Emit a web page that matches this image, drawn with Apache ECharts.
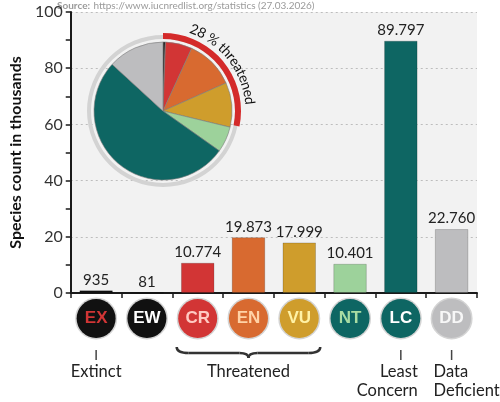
<!DOCTYPE html>
<html>
<head>
<meta charset="utf-8">
<script src="https://cdn.jsdelivr.net/npm/echarts@6/dist/echarts.min.js"></script>
<style>
  html, body { margin: 0; padding: 0; background: #fff; }
  #chart { width: 500px; height: 402px; }
</style>
</head>
<body>
<div id="chart"></div>
<script>
// IUCN red list categories, species counts (27.03.2026)
const codes = ['EX', 'EW', 'CR', 'EN', 'VU', 'NT', 'LC', 'DD'];
const counts = [935, 81, 10774, 19873, 17999, 10401, 89797, 22760];
const barColors = ['#111111', '#111111', '#d23535', '#d86a30', '#cf9d2c', '#9dd29b', '#0e6663', '#bdbdbf'];
const circleColors = ['#111111', '#111111', '#d23535', '#d86a30', '#cf9d2c', '#0e6663', '#0e6663', '#bdbdbf'];
const circleText = ['#d23535', '#ffffff', '#ffc9c2', '#ffd2a6', '#fff2a6', '#a8dca3', '#ffffff', '#f7f7f7'];
const threatened = ['CR', 'EN', 'VU'];
const yTicks = [0, 20, 40, 60, 80, 100];

const chartDom = document.getElementById('chart');
const myChart = echarts.init(chartDom);

const values = counts.map(c => c / 1000);
const fmt = n => String(n).replace(/\B(?=(\d{3})+(?!\d))/g, '.');
const total = counts.reduce((a, b) => a + b, 0);
const threatSum = counts.filter((c, i) => threatened.includes(codes[i])).reduce((a, b) => a + b, 0);
const pct = Math.round(threatSum / total * 100);

const pieCenter = [163, 111];

let rich = {};
codes.forEach(function (c, i) {
  rich['c' + i] = {
    width: 39, height: 39, lineHeight: 39,
    borderRadius: 21,
    backgroundColor: circleColors[i],
    borderColor: '#d4d4d4', borderWidth: 1.5,
    color: circleText[i],
    fontFamily: 'Liberation Sans, Arial, sans-serif',
    fontWeight: 'bold', fontSize: 17,
    align: 'center'
  };
});

let option = {
  animation: false,
  backgroundColor: '#ffffff',
  textStyle: { fontFamily: 'Lato, sans-serif' },
  grid: {
    left: 50, right: 23, top: 12, bottom: 109,
    show: true, backgroundColor: '#f2f2f2', borderWidth: 0
  },
  xAxis: {
    type: 'category',
    data: codes,
    axisLine: { lineStyle: { color: '#1a1a1a', width: 2 } },
    axisTick: { show: true, alignWithLabel: false, length: 5, lineStyle: { color: '#1a1a1a', width: 1.5 } },
    axisLabel: {
      interval: 0,
      margin: 6,
      formatter: function (v, i) { return '{c' + i + '|' + v + '}'; },
      rich: rich
    }
  },
  yAxis: {
    type: 'value',
    min: yTicks[0], max: yTicks[yTicks.length - 1], interval: 20,
    name: 'Species count in thousands',
    nameLocation: 'middle',
    nameGap: 31,
    nameTextStyle: { fontSize: 16, fontWeight: 'bold', color: '#111', fontFamily: 'Lato, sans-serif' },
    axisLine: { show: true, lineStyle: { color: '#1a1a1a', width: 2 } },
    axisTick: { show: true, length: 5, lineStyle: { color: '#1a1a1a', width: 1.5 } },
    minorTick: { show: true, splitNumber: 2, length: 5, lineStyle: { color: '#1a1a1a', width: 1.5 } },
    axisLabel: { fontSize: 16, color: '#333', margin: 8 },
    splitLine: { show: true, lineStyle: { color: '#bdbdbd', type: [2, 3], width: 1 } }
  },
  series: [
    {
      type: 'bar',
      data: values.map((v, i) => ({ value: v, itemStyle: { color: barColors[i] } })),
      barWidth: '66%',
      itemStyle: { borderColor: 'rgba(0,0,0,0.18)', borderWidth: 1 },
      label: {
        show: true, position: 'top', distance: 3,
        fontSize: 15, color: '#222',
        formatter: p => fmt(counts[p.dataIndex])
      },
      z: 2
    },
    {
      // grey ring around the pie
      type: 'pie',
      center: pieCenter,
      radius: [72, 76],
      silent: true,
      label: { show: false },
      data: [{ value: 1, itemStyle: { color: '#d3d3d3' } }],
      z: 5
    },
    {
      // red arc over the threatened share
      type: 'pie',
      center: pieCenter,
      radius: [72, 78],
      startAngle: 90,
      silent: true,
      label: { show: false },
      data: [
        { value: threatSum, itemStyle: { color: '#d42a2a' } },
        { value: total - threatSum, itemStyle: { color: 'rgba(0,0,0,0)' } }
      ],
      z: 6
    },
    {
      type: 'pie',
      center: pieCenter,
      radius: [0, 69],
      startAngle: 90,
      silent: true,
      label: { show: false },
      itemStyle: { borderColor: '#7a7a7a', borderWidth: 0.6 },
      data: counts.map((c, i) => ({ name: codes[i], value: c, itemStyle: { color: barColors[i] } })),
      z: 7
    }
  ]
};
myChart.setOption(option);

// extra text: source line, category names, brace, curved pie label
const g = [];
g.push({
  type: 'text', x: 57, y: 6,
  style: {
    rich: {
      b: { fontFamily: 'Lato, sans-serif', fontWeight: 'bold', fontSize: 10, fill: '#9a9a9a' },
      n: { fontFamily: 'Lato, sans-serif', fontSize: 10, fill: '#9a9a9a' }
    },
    text: '{b|Source:} {n|https://www.iucnredlist.org/statistics (27.03.2026)}',
    verticalAlign: 'middle'
  }
});

const cx = i => myChart.convertToPixel({ xAxisIndex: 0 }, i);
const txt = (x, y, s, align) => ({
  type: 'text', x: x, y: y,
  style: { text: s, fontFamily: 'Lato, sans-serif', fontSize: 16.5, fill: '#222', align: align, verticalAlign: 'middle' }
});
const tick = x => ({ type: 'line', shape: { x1: x, y1: 350, x2: x, y2: 360 }, style: { stroke: '#444', lineWidth: 1.5 } });

const iEX = codes.indexOf('EX'), iLC = codes.indexOf('LC'), iDD = codes.indexOf('DD');
g.push(tick(cx(iEX)), txt(cx(iEX), 372, 'Extinct', 'center'));
g.push(tick(cx(iLC)), txt(cx(iLC) + 17, 372, 'Least', 'right'), txt(cx(iLC) + 17, 391, 'Concern', 'right'));
g.push(tick(cx(iDD)), txt(cx(iDD) - 18, 372, 'Data', 'left'), txt(cx(iDD) - 18, 391, 'Deficient', 'left'));

// curly brace under the threatened categories
const tIdx = threatened.map(c => codes.indexOf(c));
const bx0 = cx(tIdx[0]) - 21, bx1 = cx(tIdx[tIdx.length - 1]) + 21, bm = (bx0 + bx1) / 2;
const by = 347;
const braceStyle = { stroke: '#333', lineWidth: 2.5, fill: null };
const curve = (x1, y1, cpx, cpy, x2, y2) => ({
  type: 'bezierCurve',
  shape: { x1: x1, y1: y1, cpx1: cpx, cpy1: cpy, x2: x2, y2: y2 },
  style: braceStyle
});
g.push(curve(bx0, by, bx0, by + 6, bx0 + 12, by + 6));
g.push({ type: 'line', shape: { x1: bx0 + 12, y1: by + 6, x2: bm - 9, y2: by + 6 }, style: braceStyle });
g.push(curve(bm - 9, by + 6, bm, by + 6, bm, by + 11));
g.push(curve(bm, by + 11, bm, by + 6, bm + 9, by + 6));
g.push({ type: 'line', shape: { x1: bm + 9, y1: by + 6, x2: bx1 - 12, y2: by + 6 }, style: braceStyle });
g.push(curve(bx1 - 12, by + 6, bx1, by + 6, bx1, by));
g.push(txt(cx(tIdx[1]), 372, 'Threatened', 'center'));

// curved "28 % threatened" along the red arc
const label = pct + ' % threatened';
const ctx = document.createElement('canvas').getContext('2d');
ctx.font = '14px Lato';
const rText = 87;
const widths = label.split('').map(ch => ctx.measureText(ch).width);
const totalW = widths.reduce((a, b) => a + b, 0);
let ang = 52 * Math.PI / 180 - totalW / (2 * rText);
label.split('').forEach(function (ch, k) {
  const a = ang + widths[k] / (2 * rText);
  g.push({
    type: 'text',
    x: pieCenter[0] + rText * Math.sin(a),
    y: pieCenter[1] - rText * Math.cos(a),
    rotation: -a,
    z: 100,
    style: { text: ch, fontFamily: 'Lato, sans-serif', fontSize: 14, fill: '#111', align: 'center', verticalAlign: 'middle' }
  });
  ang += widths[k] / rText;
});

myChart.setOption({ graphic: g });
</script>
</body>
</html>
